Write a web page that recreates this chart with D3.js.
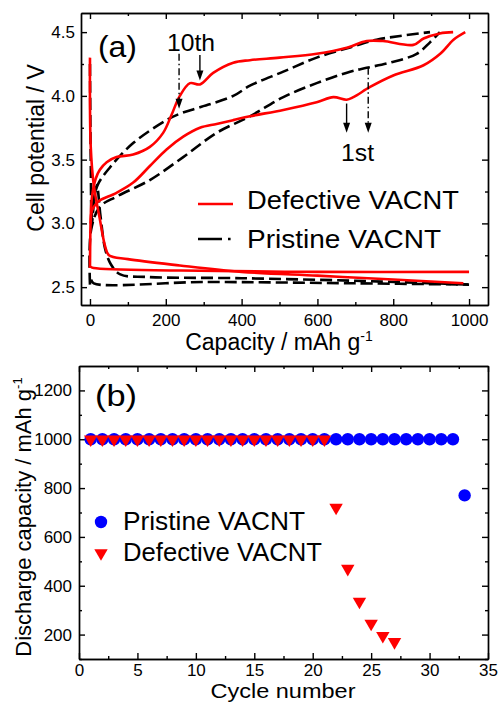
<!DOCTYPE html>
<html lang="en">
<head>
<meta charset="utf-8">
<style type="text/css">
    body { margin: 0; background: #fff; }
    svg { display: block; font-family: "Liberation Sans", Arial, sans-serif; }
    .axis path, .axis line { stroke: #000; stroke-width: 1.4px; }
    .axis text { font-size: 17px; fill: #000; font-family: "Liberation Sans", Arial, sans-serif; }
    .red { fill: none; stroke: #ff0000; stroke-width: 2.6px; stroke-linejoin: round; }
    .blk { fill: none; stroke: #000; stroke-width: 2.6px; stroke-dasharray: 12,5; }
</style>
</head>
<body>
<svg width="500" height="702"></svg>

<script src="https://d3js.org/d3.v7.min.js"></script>
<script type="text/javascript">

// ---- panel (a): voltage profiles, [capacity mAh/g, V]
var redCharge10 = [[0,2.65],[2,3.05],[5,3.2],[15,3.35],[26,3.42],[44,3.48],[70,3.52],[114,3.54],[158,3.6],[193,3.71],[215,3.85],[237,4.0],[264,4.1],[290,4.09],[325,4.18],[378,4.26],[422,4.28],[500,4.30],[598,4.33],[680,4.38],[730,4.43],[773,4.43],[853,4.40],[880,4.45],[923,4.49],[958,4.5]];
var redCharge1 = [[2,3.0],[5,3.1],[15,3.15],[26,3.18],[70,3.24],[114,3.32],[158,3.45],[202,3.58],[246,3.68],[290,3.75],[334,3.78],[378,3.81],[422,3.84],[510,3.89],[598,3.95],[642,3.99],[677,3.97],[695,3.99],[739,4.07],[800,4.16],[880,4.24],[924,4.33],[959,4.44],[990,4.5]];
var redDis1 = [[0,4.3],[2,3.6],[10,3.3],[25,3.05],[40,2.82],[50,2.75],[100,2.72],[237,2.67],[400,2.62],[600,2.59],[800,2.56],[985,2.53]];
var redDis10 = [[2,2.66],[10,2.65],[240,2.63],[600,2.62],[1000,2.62]];
var blkCharge10 = [[3,3.0],[8,3.15],[20,3.3],[53,3.44],[114,3.63],[202,3.81],[237,3.86],[290,3.91],[378,4.0],[422,4.08],[510,4.19],[598,4.30],[686,4.38],[756,4.44],[818,4.47],[897,4.5]];
var blkCharge1 = [[0,2.52],[3,2.95],[26,3.13],[70,3.21],[158,3.34],[246,3.52],[334,3.71],[422,3.84],[510,3.99],[598,4.10],[686,4.19],[730,4.22],[791,4.26],[862,4.33],[897,4.42],[923,4.5]];
var blkDis1 = [[0,4.25],[2,3.5],[5,3.0],[10,3.15],[18,3.3],[28,3.05],[40,2.8],[55,2.68],[80,2.6],[150,2.58],[400,2.57],[700,2.55],[1000,2.52]];
var blkDis10 = [[3,2.56],[10,2.53],[300,2.54],[700,2.53],[1000,2.52]];

var capTicks = [0, 200, 400, 600, 800, 1000];
var capMinor = [100, 300, 500, 700, 900];
var voltTicks = [2.5, 3.0, 3.5, 4.0, 4.5];
var voltMinor = [2.75, 3.25, 3.75, 4.25];

// arrows: capacity, start V, end V, dash-dot?
var arrows10 = [[235, 4.33, 3.90, true], [290, 4.32, 4.12, false]];
var arrows1 = [[677, 3.94, 3.71, false], [734, 4.22, 3.71, true]];

// ---- panel (b): discharge capacity vs cycle
var pristineCycle = [1,2,3,4,5,6,7,8,9,10,11,12,13,14,15,16,17,18,19,20,21,22,23,24,25,26,27,28,29,30,31,32,33];
var pristineCap = [1000,1000,1000,1000,1000,1000,1000,1000,1000,1000,1000,1000,1000,1000,1000,1000,1000,1000,1000,1000,1000,1000,1000,1000,1000,1000,1000,1000,1000,1000,1000,1000,770];
var defectCycle = [1,2,3,4,5,6,7,8,9,10,11,12,13,14,15,16,17,18,19,20,21,22,23,24,25,26,27];
var defectCap = [1000,1000,1000,1000,1000,1000,1000,1000,1000,1000,1000,1000,1000,1000,1000,1000,1000,1000,1000,1000,1000,720,470,335,245,195,170];

var cycTicks = [0, 5, 10, 15, 20, 25, 30, 35];
var cycMinor = [2.5, 7.5, 12.5, 17.5, 22.5, 27.5, 32.5];
var capBTicks = [200, 400, 600, 800, 1000, 1200];
var capBMinor = [100, 300, 500, 700, 900, 1100];

var svg = d3.select("svg");

function frame(x, y, xMaj, xMin, yMaj, yMin, xPad, yPad, xFmt, yFmt) {
    var x0 = x.range()[0], x1 = x.range()[1], y0 = y.range()[0], y1 = y.range()[1];
    var g = svg.append("g").attr("class", "axis");
    g.append("g").attr("transform", "translate(0," + y0 + ")")
        .call(d3.axisBottom(x).tickValues(xMaj).tickSizeInner(-6).tickSizeOuter(0).tickPadding(xPad).tickFormat(xFmt));
    g.append("g").attr("transform", "translate(0," + y0 + ")")
        .call(d3.axisBottom(x).tickValues(xMin).tickSizeInner(-3).tickSizeOuter(0).tickFormat(""));
    g.append("g").attr("transform", "translate(0," + y1 + ")")
        .call(d3.axisTop(x).tickValues(xMaj).tickSizeInner(-6).tickSizeOuter(0).tickFormat(""));
    g.append("g").attr("transform", "translate(0," + y1 + ")")
        .call(d3.axisTop(x).tickValues(xMin).tickSizeInner(-3).tickSizeOuter(0).tickFormat(""));
    g.append("g").attr("transform", "translate(" + x0 + ",0)")
        .call(d3.axisLeft(y).tickValues(yMaj).tickSizeInner(-6).tickSizeOuter(0).tickPadding(yPad).tickFormat(yFmt));
    g.append("g").attr("transform", "translate(" + x0 + ",0)")
        .call(d3.axisLeft(y).tickValues(yMin).tickSizeInner(-3).tickSizeOuter(0).tickFormat(""));
    g.append("g").attr("transform", "translate(" + x1 + ",0)")
        .call(d3.axisRight(y).tickValues(yMaj).tickSizeInner(-6).tickSizeOuter(0).tickFormat(""));
    g.append("g").attr("transform", "translate(" + x1 + ",0)")
        .call(d3.axisRight(y).tickValues(yMin).tickSizeInner(-3).tickSizeOuter(0).tickFormat(""));
    return g;
}

// stretched label, width
function label(x, y, size, txt, len) {
    var t = svg.append("text").attr("x", x).attr("y", y).attr("font-size", size).text(txt);
    if (len) t.attr("textLength", len).attr("lengthAdjust", "spacingAndGlyphs");
    return t;
}

// ================= panel (a)
var xA = d3.scaleLinear().domain([-23.7, 1050]).range([81, 488]);
var yA = d3.scaleLinear().domain([2.36, 4.65]).range([305, 13]);

var lineA = d3.line()
    .x(function (d) { return xA(d[0]); })
    .y(function (d) { return yA(d[1]); })
    .curve(d3.curveCatmullRom.alpha(0.5));

[blkCharge10, blkCharge1, blkDis1, blkDis10].forEach(function (s) {
    svg.append("path").attr("class", "blk").attr("d", lineA(s));
});
[redCharge10, redCharge1, redDis1, redDis10].forEach(function (s) {
    svg.append("path").attr("class", "red").attr("d", lineA(s));
});

frame(xA, yA, capTicks, capMinor, voltTicks, voltMinor, 9, 6, d3.format("d"), d3.format(".1f"));

function drawArrow(a) {
    var px = xA(a[0]), ya = yA(a[1]), yb = yA(a[2]);
    svg.append("line")
        .attr("x1", px).attr("x2", px).attr("y1", ya).attr("y2", yb - 8)
        .attr("stroke", "#000").attr("stroke-width", 1.4)
        .attr("stroke-dasharray", a[3] ? "7,3,1.5,3" : null);
    svg.append("path")
        .attr("d", "M" + (px - 3.5) + "," + (yb - 10) + "L" + (px + 3.5) + "," + (yb - 10) + "L" + px + "," + yb + "Z")
        .attr("fill", "#000");
}
arrows10.forEach(drawArrow);
arrows1.forEach(drawArrow);

label(167, 51, 24, "10th", 48);
label(341, 161, 24, "1st", 33);
label(98, 57, 30, "(a)", 39);

// legend (a)
svg.append("line").attr("x1", 198).attr("x2", 233).attr("y1", 204).attr("y2", 204)
    .attr("stroke", "#ff0000").attr("stroke-width", 2.6);
label(247, 209, 26, "Defective VACNT", 212);
svg.append("line").attr("x1", 198).attr("x2", 233).attr("y1", 239).attr("y2", 239)
    .attr("stroke", "#000").attr("stroke-width", 2.6).attr("stroke-dasharray", "24,6,2.6,10");
label(247, 248, 26, "Pristine VACNT", 194);

// axis titles (a)
var tA = svg.append("text").attr("x", 279).attr("y", 350).attr("font-size", 23).attr("text-anchor", "middle");
tA.append("tspan").text("Capacity / mAh g");
tA.append("tspan").attr("dy", -9).attr("font-size", 14).text("-1");
svg.append("text").attr("transform", "translate(44,148) rotate(-90)")
    .attr("font-size", 23).attr("text-anchor", "middle").text("Cell potential / V");

// ================= panel (b)
var xB = d3.scaleLinear().domain([0, 35]).range([79, 488]);
var yB = d3.scaleLinear().domain([100, 1300]).range([659, 366]);

frame(xB, yB, cycTicks, cycMinor, capBTicks, capBMinor, 5, 7, d3.format("d"), d3.format("d"));

var circ = d3.symbol().type(d3.symbolCircle).size(121);
var tri = d3.symbol().type(d3.symbolTriangle).size(78);

svg.append("g").selectAll("path")
    .data(pristineCycle)
    .enter().append("path")
    .attr("d", circ())
    .attr("fill", "#0000ff")
    .attr("transform", function (d, i) { return "translate(" + xB(d) + "," + yB(pristineCap[i]) + ")"; });

svg.append("g").selectAll("path")
    .data(defectCycle)
    .enter().append("path")
    .attr("d", tri())
    .attr("fill", "#ff0000")
    .attr("transform", function (d, i) { return "translate(" + xB(d) + "," + yB(defectCap[i]) + ") rotate(180)"; });

label(95, 406, 30, "(b)", 42);

// legend (b)
svg.append("path").attr("d", circ()).attr("fill", "#0000ff").attr("transform", "translate(101,522)");
label(123, 530, 25, "Pristine VACNT", 182);
svg.append("path").attr("d", tri()).attr("fill", "#ff0000").attr("transform", "translate(101,553) rotate(180)");
label(123, 561, 25, "Defective VACNT", 199);

// axis titles (b)
svg.append("text").attr("x", 283).attr("y", 698).attr("font-size", 20).attr("text-anchor", "middle")
    .attr("textLength", 145).attr("lengthAdjust", "spacingAndGlyphs").text("Cycle number");
var tB = svg.append("text").attr("transform", "translate(31,517) rotate(-90)")
    .attr("font-size", 22).attr("text-anchor", "middle");
tB.append("tspan").text("Discharge capacity / mAh g");
tB.append("tspan").attr("dy", -9).attr("font-size", 13).text("-1");

</script>
</body>
</html>
